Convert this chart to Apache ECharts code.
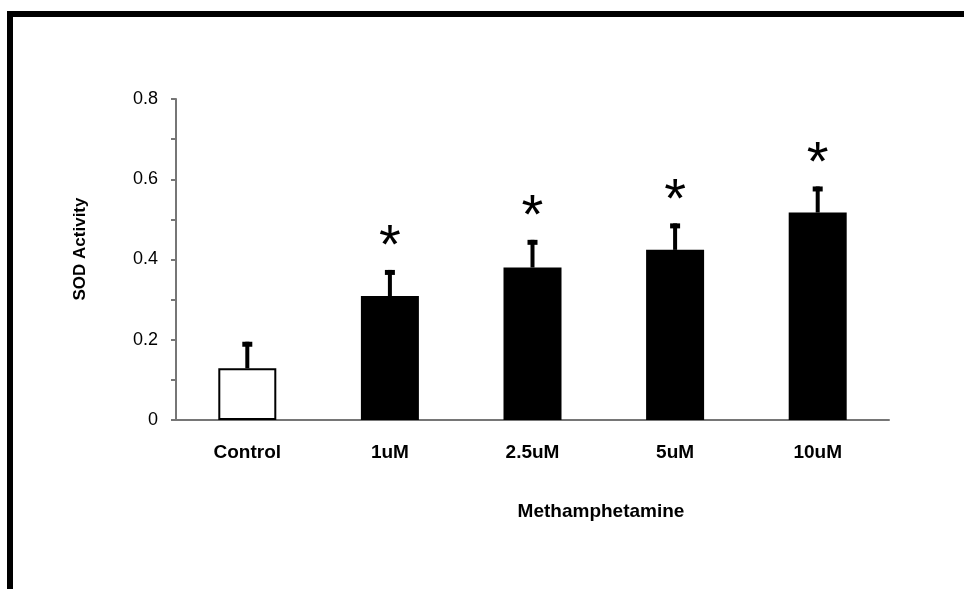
<!DOCTYPE html>
<html>
<head>
<meta charset="utf-8">
<script src="https://cdn.jsdelivr.net/npm/echarts@6/dist/echarts.min.js"></script>
<style>
html,body{margin:0;padding:0;background:#fff;}
#chart{width:964px;height:589px;}
</style>
</head>
<body>
<div id="chart"></div>
<script>
const categories = ['Control', '1uM', '2.5uM', '5uM', '10uM'];
const means = [0.129, 0.309, 0.380, 0.424, 0.517];
const errors = [0.066, 0.065, 0.069, 0.066, 0.065];
const significant = [false, true, true, true, true];
const xTitle = 'Methamphetamine';
const yTitle = 'SOD Activity';

const FONT = 'Liberation Sans, Arial, sans-serif';
const chart = echarts.init(document.getElementById('chart'), null, {renderer: 'canvas'});

const barData = means.map((v, i) => ({
  value: v,
  itemStyle: i === 0
    ? {color: '#ffffff', borderColor: '#000000', borderWidth: 2}
    : {color: '#000000', borderColor: '#000000', borderWidth: 0}
}));
const errData = means.map((v, i) => [i, v, v + errors[i], significant[i] ? 1 : 0]);

chart.setOption({
  animation: false,
  backgroundColor: '#ffffff',
  grid: {left: 176, right: 75, top: 99, bottom: 169, containLabel: false},
  xAxis: {
    type: 'category',
    data: categories,
    axisLine: {lineStyle: {color: '#767676', width: 2}},
    axisTick: {show: false},
    axisLabel: {color: '#000', fontFamily: FONT, fontWeight: 'bold', fontSize: 19, margin: 23}
  },
  yAxis: {
    type: 'value',
    min: 0, max: 0.8, interval: 0.2,
    axisLine: {show: true, lineStyle: {color: '#767676', width: 2}},
    axisTick: {show: true, length: 5, lineStyle: {color: '#767676', width: 2}},
    minorTick: {show: true, splitNumber: 2, length: 5, lineStyle: {color: '#767676', width: 2}},
    splitLine: {show: false},
    axisLabel: {color: '#000', fontFamily: FONT, fontSize: 18, margin: 18,
      formatter: v => (v === 0 ? '0' : String(Math.round(v * 10) / 10))}
  },
  graphic: [
    {type: 'rect', shape: {x: 7, y: 11, width: 957, height: 6}, style: {fill: '#000'}},
    {type: 'rect', shape: {x: 7, y: 11, width: 6, height: 578}, style: {fill: '#000'}},
    {type: 'text', x: 80, y: 249, rotation: Math.PI / 2,
      style: {text: yTitle, font: 'bold 17px ' + FONT, fill: '#000', align: 'center', verticalAlign: 'middle'}},
    {type: 'text', x: 601, y: 512,
      style: {text: xTitle, font: 'bold 19px ' + FONT, fill: '#000', align: 'center', verticalAlign: 'middle'}}
  ],
  series: [
    {
      type: 'bar',
      data: barData,
      barWidth: 58,
      z: 2
    },
    {
      type: 'custom',
      data: errData,
      z: 3,
      renderItem: function (params, api) {
        const x = api.coord([api.value(0), 0])[0];
        const yBase = api.coord([api.value(0), api.value(1)])[1];
        const yTop = api.coord([api.value(0), api.value(2)])[1];
        const children = [
          {type: 'rect', shape: {x: x - 2, y: yTop, width: 4, height: yBase - yTop}, style: {fill: '#000'}},
          {type: 'rect', shape: {x: x - 5, y: yTop, width: 10, height: 5}, style: {fill: '#000'}}
        ];
        if (api.value(3) === 1) {
          children.push({type: 'text', x: x, y: yTop - 22,
            style: {text: '*', font: '56px ' + FONT, fill: '#000', align: 'center', verticalAlign: 'middle'}});
        }
        return {type: 'group', children: children};
      }
    }
  ]
});
</script>
</body>
</html>
